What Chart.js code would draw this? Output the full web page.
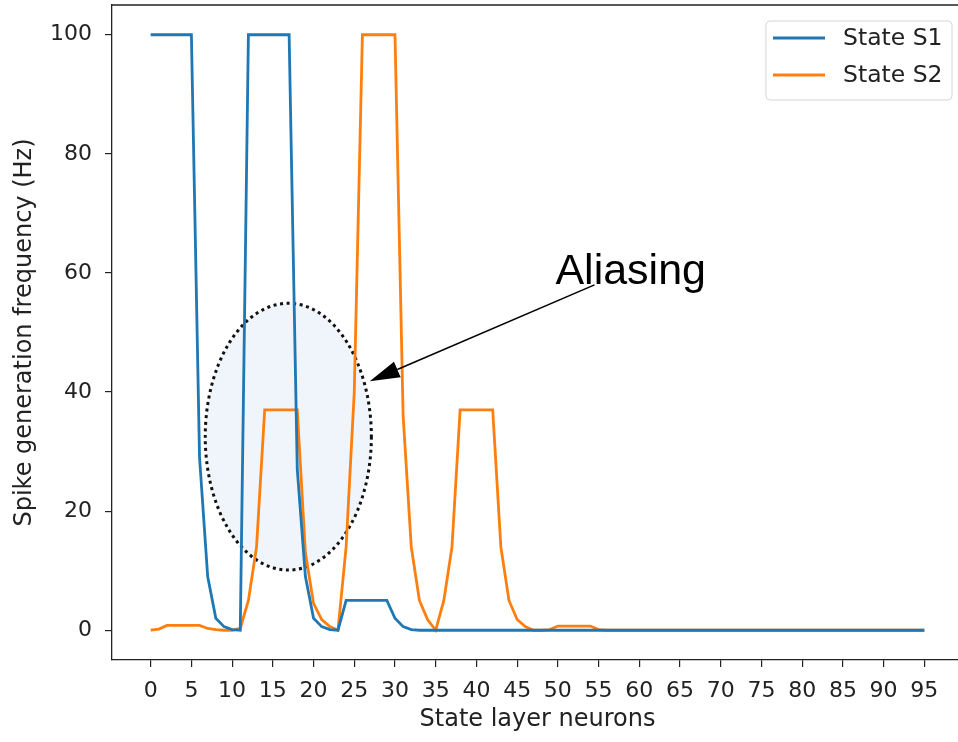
<!DOCTYPE html>
<html><head><meta charset="utf-8">
<script src="https://cdn.jsdelivr.net/npm/chart.js@4/dist/chart.umd.min.js"></script>
<style>
html,body{margin:0;padding:0;overflow:hidden;background:#fff;width:958px;height:742px}
#wrap{width:958px;height:742px;overflow:hidden;position:relative}
canvas{display:block}
</style></head>
<body><div id="wrap"><canvas id="c" width="966" height="742"></canvas></div>
<script>
// ---- data ----
const neurons = [];
for (let i = 0; i < 96; i++) neurons.push(i);
const seriesNames = ['State S1', 'State S2'];
const stateS1 = [
  100,100,100,100,100,100, 29,9,2,0.6,0.1,0,
  100,100,100,100,100,100, 27,9,2,0.6,0.1,0,
  5,5,5,5,5,5, 2,0.6,0.1,
  0,0,0,0,0,0,0,0,0,0, 0,0,0,0,0,0,0,0,0,0, 0,0,0,0,0,0,0,0,0,0,
  0,0,0,0,0,0,0,0,0,0, 0,0,0,0,0,0,0,0,0,0, 0,0,0,0,0,0,0,0,0,0, 0,0,0
];
const stateS2 = [
  0,0.2,0.8,0.8,0.8,0.8,0.8,0.3,0.1,0,0,0.3,
  5,14,37,37,37,37,37,13,4.5,1.8,0.6,0,
  14,40,100,100,100,100,100,36,14,5,1.8,0,
  5,14,37,37,37,37,37,14,5,1.8,0.6,0,
  0,0.1,0.7,0.7,0.7,0.7,0.7,0.1,0,0,0,0,
  0,0,0,0,0,0,0,0,0,0, 0,0,0,0,0,0,0,0,0,0, 0,0,0,0,0,0,0,0,0,0, 0,0,0,0,0,0
];
const xTicks = [0,5,10,15,20,25,30,35,40,45,50,55,60,65,70,75,80,85,90,95];
const yTicks = [0,20,40,60,80,100];
const xTitle = 'State layer neurons';
const yTitle = 'Spike generation frequency (Hz)';
const annotationText = 'Aliasing';
// annotation geometry in data units
const ellipseCenter = [16.9, 32.5];
const ellipseRadii = [10.2, 22.4];
const arrowFrom = [54.5, 58.0];
const arrowTo = [26.9, 41.8];
const textAt = [49.7, 58.1];

const colors = ['#1f77b4', '#ff7f0e'];
const FONT = 'DejaVu Sans';
const FS = 22;
const TFS = 24;

const annot = {
  id: 'annot',
  beforeDatasetsDraw(chart) {
    const {ctx, scales: {x, y}} = chart;
    const cx = x.getPixelForValue(ellipseCenter[0]);
    const cy = y.getPixelForValue(ellipseCenter[1]);
    const rx = x.getPixelForValue(ellipseCenter[0] + ellipseRadii[0]) - cx;
    const ry = cy - y.getPixelForValue(ellipseCenter[1] + ellipseRadii[1]);
    ctx.save();
    ctx.beginPath();
    ctx.ellipse(cx, cy, rx, ry, 0, 0, Math.PI * 2);
    ctx.fillStyle = 'rgba(31,119,180,0.07)';
    ctx.fill();
    ctx.setLineDash([3, 3.6]);
    ctx.lineWidth = 3;
    ctx.strokeStyle = '#111';
    ctx.stroke();
    ctx.restore();
  },
  afterDatasetsDraw(chart) {
    const {ctx, scales: {x, y}} = chart;
    const x0 = x.getPixelForValue(arrowFrom[0]), y0 = y.getPixelForValue(arrowFrom[1]);
    const x1 = x.getPixelForValue(arrowTo[0]), y1 = y.getPixelForValue(arrowTo[1]);
    const dx = x1 - x0, dy = y1 - y0, L = Math.hypot(dx, dy);
    const ux = dx / L, uy = dy / L;
    const hl = 30, hw = 8.5;
    const bx = x1 - ux * hl, by = y1 - uy * hl;
    ctx.save();
    ctx.strokeStyle = '#000';
    ctx.lineWidth = 1.6;
    ctx.beginPath(); ctx.moveTo(x0, y0); ctx.lineTo(bx, by); ctx.stroke();
    ctx.beginPath();
    ctx.moveTo(x1, y1);
    ctx.lineTo(bx - uy * hw, by + ux * hw);
    ctx.lineTo(bx + uy * hw, by - ux * hw);
    ctx.closePath();
    ctx.fillStyle = '#000';
    ctx.fill();
    ctx.font = '43px "Liberation Sans"';
    ctx.textBaseline = 'alphabetic';
    ctx.textAlign = 'left';
    ctx.fillText(annotationText, x.getPixelForValue(textAt[0]), y.getPixelForValue(textAt[1]));
    ctx.restore();
  }
};

const frame = {
  id: 'frame',
  afterDraw(chart) {
    const {ctx, chartArea: a} = chart;
    ctx.save();
    ctx.strokeStyle = '#222';
    ctx.lineWidth = 1.3;
    ctx.beginPath();
    ctx.moveTo(a.left, a.top); ctx.lineTo(a.right, a.top); ctx.lineTo(a.right, a.bottom);
    ctx.stroke();
    ctx.restore();
  }
};

const legendBox = {
  id: 'legendBox',
  afterDraw(chart) {
    const ctx = chart.ctx;
    const bx = 766, by = 21, bw = 186, bh = 79, r = 4;
    ctx.save();
    ctx.beginPath();
    ctx.moveTo(bx + r, by);
    ctx.arcTo(bx + bw, by, bx + bw, by + bh, r);
    ctx.arcTo(bx + bw, by + bh, bx, by + bh, r);
    ctx.arcTo(bx, by + bh, bx, by, r);
    ctx.arcTo(bx, by, bx + bw, by, r);
    ctx.closePath();
    ctx.fillStyle = 'rgba(255,255,255,0.8)';
    ctx.fill();
    ctx.strokeStyle = '#d6d6d6';
    ctx.lineWidth = 1;
    ctx.stroke();
    chart.data.datasets.forEach((ds, i) => {
      const yy = 38 + i * 37;
      ctx.strokeStyle = ds.borderColor;
      ctx.lineWidth = 2.8;
      ctx.beginPath(); ctx.moveTo(773, yy); ctx.lineTo(825, yy); ctx.stroke();
      ctx.fillStyle = '#222';
      ctx.font = '23.5px "' + FONT + '"';
      ctx.textBaseline = 'middle';
      ctx.textAlign = 'left';
      ctx.fillText(ds.label, 843, yy + 1);
    });
    ctx.restore();
  }
};

new Chart(document.getElementById('c'), {
  type: 'line',
  data: {
    datasets: [stateS1, stateS2].map((vals, k) => ({
      label: seriesNames[k],
      data: neurons.map((n, i) => ({x: n, y: vals[i]})),
      borderColor: colors[k],
      backgroundColor: colors[k],
      borderWidth: 2.8,
      pointRadius: 0,
      tension: 0,
      fill: false
    }))
  },
  options: {
    responsive: false,
    animation: false,
    devicePixelRatio: 1,
    layout: {padding: {left: 0, top: 5, right: 3, bottom: 0}},
    plugins: {legend: {display: false}, tooltip: {enabled: false}},
    scales: {
      x: {
        type: 'linear', min: -4.75, max: 99.75,
        afterBuildTicks: s => { s.ticks = xTicks.map(v => ({value: v})); },
        afterFit: s => { s.height = 82; s.paddingLeft = 0; s.paddingRight = 0; },
        grid: {display: true, drawOnChartArea: false, drawTicks: true, tickLength: 7, color: '#222', lineWidth: 1.2},
        border: {display: true, color: '#222', width: 1.3},
        ticks: {font: {family: FONT, size: FS}, color: '#222', padding: 11, maxRotation: 0, autoSkip: false},
        title: {display: true, text: xTitle, font: {family: FONT, size: TFS}, color: '#222', padding: {top: 0, bottom: 7.5}}
      },
      y: {
        type: 'linear', min: -5, max: 105,
        afterBuildTicks: s => { s.ticks = yTicks.map(v => ({value: v})); },
        afterFit: s => { s.width = 112; s.paddingTop = 0; s.paddingBottom = 0; },
        grid: {display: true, drawOnChartArea: false, drawTicks: true, tickLength: 7, color: '#222', lineWidth: 1.2},
        border: {display: true, color: '#222', width: 1.3},
        ticks: {font: {family: FONT, size: FS}, color: '#222', padding: 13, autoSkip: false},
        title: {display: true, text: yTitle, font: {family: FONT, size: TFS}, color: '#222', padding: {top: 10.5, bottom: 0}}
      }
    }
  },
  plugins: [annot, frame, legendBox]
});
</script>
</body></html>
